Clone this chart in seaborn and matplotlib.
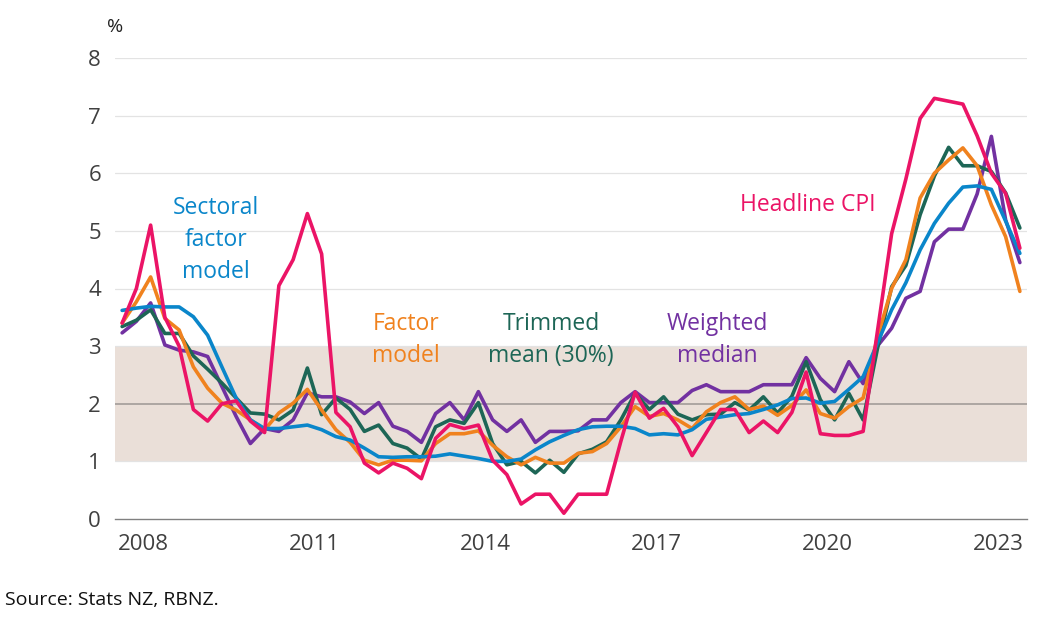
import numpy as np
import pandas as pd
import matplotlib
matplotlib.use("Agg")
import matplotlib.pyplot as plt
import seaborn as sns

# Quarterly annual inflation, 2008 Q1 - 2023 Q4
quarters = pd.period_range("2008Q1", "2023Q4", freq="Q").astype(str).tolist()

headline_cpi = [3.4, 4.0, 5.1, 3.5, 3.0, 1.9, 1.7, 2.0, 2.05, 1.7, 1.5, 4.05, 4.5, 5.3, 4.6, 1.85,
                1.6, 0.97, 0.8, 0.97, 0.88, 0.7, 1.4, 1.64, 1.57, 1.63, 1.02, 0.77, 0.26, 0.43, 0.43, 0.1,
                0.43, 0.43, 0.43, 1.35, 2.2, 1.75, 1.92, 1.6, 1.1, 1.5, 1.9, 1.9, 1.5, 1.7, 1.5, 1.85,
                2.55, 1.48, 1.45, 1.45, 1.52, 3.25, 4.95, 5.9, 6.95, 7.3, 7.25, 7.2, 6.65, 6.0, 5.65, 4.7]
factor_model = [3.4, 3.77, 4.2, 3.48, 3.28, 2.64, 2.27, 2.01, 1.89, 1.72, 1.55, 1.84, 2.01, 2.25, 1.89, 1.55,
                1.33, 1.02, 0.94, 1.02, 1.02, 1.01, 1.31, 1.48, 1.48, 1.53, 1.28, 1.08, 0.94, 1.07, 0.97, 0.97,
                1.14, 1.17, 1.31, 1.6, 1.95, 1.78, 1.83, 1.72, 1.57, 1.86, 2.02, 2.12, 1.9, 1.96, 1.8, 1.97,
                2.24, 1.83, 1.75, 1.95, 2.1, 3.15, 4.0, 4.5, 5.57, 6.0, 6.23, 6.44, 6.13, 5.45, 4.9, 3.95]
trimmed_mean = [3.34, 3.45, 3.63, 3.22, 3.22, 2.83, 2.6, 2.36, 2.1, 1.84, 1.82, 1.72, 1.89, 2.62, 1.81, 2.1,
                1.9, 1.52, 1.63, 1.31, 1.23, 1.04, 1.6, 1.72, 1.66, 2.02, 1.31, 0.94, 1.0, 0.8, 1.02, 0.81,
                1.13, 1.21, 1.34, 1.72, 2.18, 1.9, 2.12, 1.82, 1.72, 1.81, 1.82, 2.02, 1.89, 2.12, 1.84, 2.13,
                2.73, 2.07, 1.72, 2.18, 1.72, 2.95, 4.03, 4.4, 5.28, 5.95, 6.45, 6.13, 6.13, 6.03, 5.66, 5.05]
weighted_median = [3.23, 3.43, 3.75, 3.02, 2.93, 2.9, 2.82, 2.3, 1.78, 1.31, 1.57, 1.52, 1.72, 2.19, 2.12, 2.12,
                   2.03, 1.83, 2.02, 1.61, 1.52, 1.33, 1.83, 2.02, 1.72, 2.21, 1.72, 1.52, 1.72, 1.33, 1.52, 1.52,
                   1.53, 1.72, 1.72, 2.02, 2.21, 2.02, 2.02, 2.02, 2.23, 2.33, 2.21, 2.21, 2.21, 2.33, 2.33, 2.33,
                   2.8, 2.44, 2.21, 2.73, 2.35, 3.0, 3.31, 3.83, 3.95, 4.81, 5.03, 5.03, 5.64, 6.64, 5.19, 4.45]
sectoral_factor = [3.62, 3.66, 3.69, 3.68, 3.68, 3.51, 3.19, 2.64, 2.1, 1.72, 1.57, 1.57, 1.6, 1.63, 1.55, 1.43,
                   1.37, 1.23, 1.08, 1.07, 1.08, 1.08, 1.09, 1.13, 1.09, 1.05, 1.0, 1.0, 1.04, 1.2, 1.34, 1.45,
                   1.55, 1.6, 1.61, 1.61, 1.57, 1.46, 1.48, 1.46, 1.55, 1.73, 1.77, 1.81, 1.83, 1.9, 1.98, 2.09,
                   2.1, 2.01, 2.04, 2.25, 2.47, 3.05, 3.63, 4.1, 4.67, 5.13, 5.48, 5.76, 5.78, 5.72, 5.17, 4.61]

year_labels = ["2008", "2011", "2014", "2017", "2020", "2023"]

colors = {
    "Weighted median": "#7231A1",
    "Trimmed mean (30%)": "#1D6656",
    "Factor model": "#F0821E",
    "Sectoral factor model": "#0A86CA",
    "Headline CPI": "#EB1466",
}

# long format for seaborn, draw order = dict order
series = {
    "Weighted median": weighted_median,
    "Trimmed mean (30%)": trimmed_mean,
    "Factor model": factor_model,
    "Sectoral factor model": sectoral_factor,
    "Headline CPI": headline_cpi,
}
frames = []
for name, vals in series.items():
    frames.append(pd.DataFrame({"quarter": quarters, "idx": np.arange(len(quarters)),
                                "value": vals, "series": name}))
df = pd.concat(frames, ignore_index=True)

sns.set_style("white")
plt.rcParams["font.family"] = ["Open Sans", "DejaVu Sans"]

fig = plt.figure(figsize=(10.55, 6.21), dpi=100)
ax = fig.add_axes([115 / 1055, 1 - 519 / 621, (1027 - 115) / 1055, (519 - 58) / 621])

# target band and gridlines
ax.axhspan(1, 3, color="#EADFD8", zorder=0, lw=0)
for y in [1, 3, 4, 5, 6, 7, 8]:
    ax.axhline(y, color="#E3E3E3", lw=0.9, zorder=0.5)
ax.axhline(2, color="#A39C99", lw=1.2, zorder=1)

sns.lineplot(data=df, x="idx", y="value", hue="series", palette=colors,
             hue_order=list(series.keys()), linewidth=2.6, legend=False, ax=ax, zorder=3)

ax.set_xlim(-0.5, len(quarters) - 0.5)
ax.set_ylim(0, 8)
ax.set_xlabel("")
ax.set_ylabel("")

# year boundary ticks, labels centred in every third year
ax.set_xticks(np.arange(-0.5, len(quarters), 4))
ax.set_xticklabels([])
ax.set_xticks(np.arange(1.5, len(quarters), 12), minor=True)
ax.set_xticklabels(year_labels, minor=True)
ax.tick_params(axis="x", which="major", length=5, color="#808080", width=0.9, direction="out")
ax.tick_params(axis="x", which="minor", length=0, pad=11, labelsize=16, labelcolor="#404040")
ax.set_yticks(range(0, 9))
ax.tick_params(axis="y", length=0, pad=10, labelsize=16, labelcolor="#404040")

for s in ["top", "right", "left"]:
    ax.spines[s].set_visible(False)
ax.spines["bottom"].set_color("#808080")
ax.spines["bottom"].set_linewidth(1.0)
ax.spines["bottom"].set_zorder(4)

# series labels
lab = dict(ha="center", va="center", fontsize=16.5, linespacing=1.45)
ax.text(6.6, 4.84, "Sectoral\nfactor\nmodel", color=colors["Sectoral factor model"], **lab)
ax.text(19.9, 3.11, "Factor\nmodel", color=colors["Factor model"], **lab)
ax.text(30.1, 3.11, "Trimmed\nmean (30%)", color=colors["Trimmed mean (30%)"], **lab)
ax.text(41.8, 3.11, "Weighted\nmedian", color=colors["Weighted median"], **lab)
ax.text(48.1, 5.45, "Headline CPI", color=colors["Headline CPI"], **lab)

fig.text(115 / 1055, 1 - 27 / 621, "%", ha="center", va="center", fontsize=14, color="#222222")
fig.text(5 / 1055, 1 - 600 / 621, "Source: Stats NZ, RBNZ.", ha="left", va="center", fontsize=14, color="#111111")

fig.savefig("out.png", dpi=100)
